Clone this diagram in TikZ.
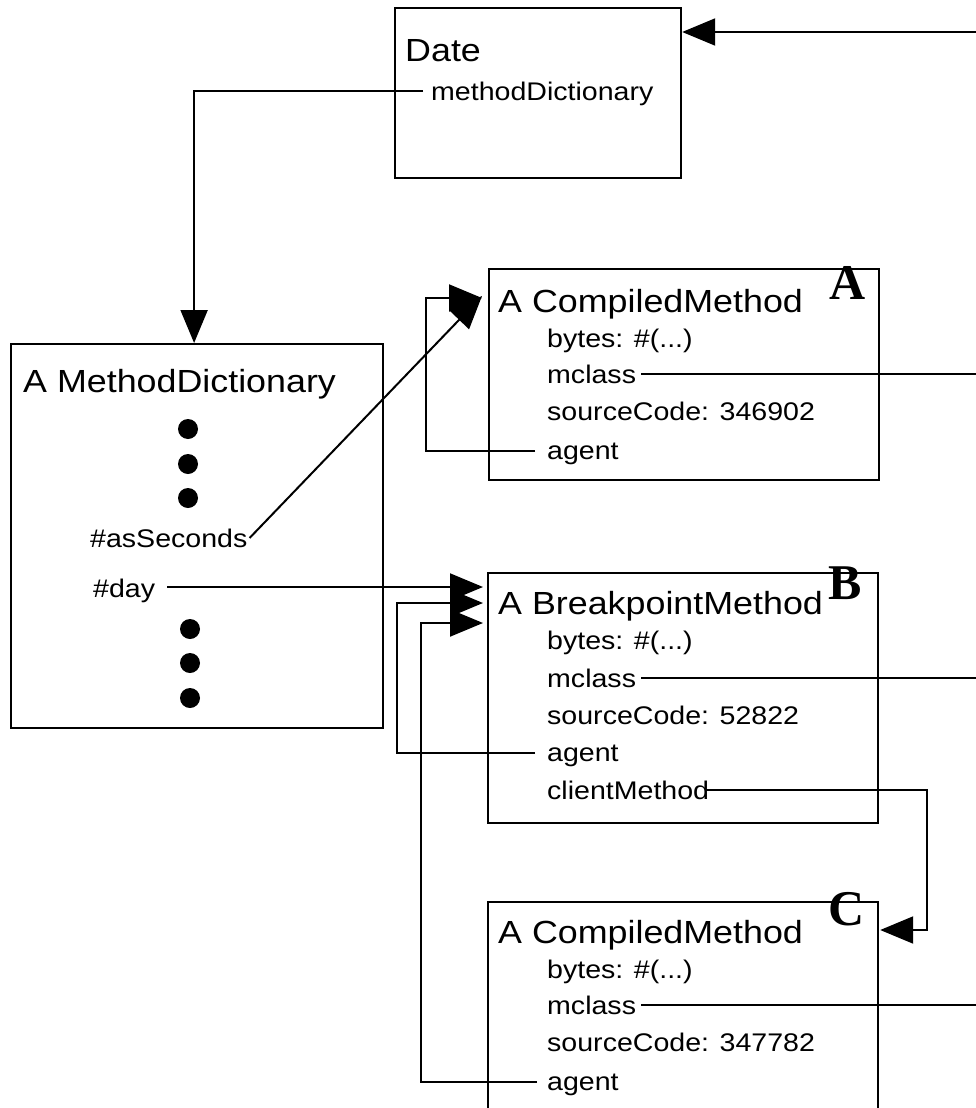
\documentclass[tikz,border=0pt]{standalone}
\usepackage{fontspec}
\newfontfamily\dgbig{Liberation Sans}[FakeStretch=1.12]
\newfontfamily\dgser{Liberation Serif}
\usetikzlibrary{arrows.meta,calc}
\tikzset{
  box/.style={draw, rectangle, line width=2.2pt, anchor=north west, inner sep=0pt},
  ttl/.style={font=\dgbig\fontsize{32}{36}\selectfont, anchor=base west, inner sep=0pt},
  fld/.style={font=\dgbig\fontsize{25.5}{28}\selectfont, anchor=base west, inner sep=0pt},
  tag/.style={font=\dgser\bfseries\fontsize{50}{54}\selectfont, anchor=base west, inner sep=0pt},
  link/.style={line width=2pt},
  arr/.style={link, -{Triangle[length=33pt,width=27pt]}},
  dot/.style={circle, fill, inner sep=0pt, minimum size=20pt},
}
\begin{document}
\begin{tikzpicture}[x=1pt, y=-1pt]
\useasboundingbox (0,0) rectangle (976,1108);
\clip (0,0) rectangle (976,1108);

% Date
\node[box, minimum width=286pt, minimum height=170pt] (date) at (394,7) {};
\node[ttl] (dateT) at (405,62) {Date};
\node[fld] (mdT) at (431,100) {methodDictionary};

% MethodDictionary
\node[box, minimum width=372pt, minimum height=384pt] (mdict) at (10,343) {};
\node[ttl] (mdictT) at (23,392) {A MethodDictionary};
\node[dot] (d1) at (188,429) {};
\node[dot] (d2) at (188,464) {};
\node[dot] (d3) at (188,498) {};
\node[fld] (asS) at (90,547) {\#asSeconds};
\node[fld] (day) at (93,597) {\#day};
\node[dot] (d4) at (190,629) {};
\node[dot] (d5) at (190,663) {};
\node[dot] (d6) at (190,698) {};

% CompiledMethod A
\node[box, minimum width=390pt, minimum height=211pt] (cmA) at (488,268) {};
\node[ttl] (cmAT) at (498,312) {A CompiledMethod};
\node[tag] (tagA) at (829,299) {A};
\node[fld] (byA) at (547,347) {bytes: \#(...)};
\node[fld] (mcA) at (547,383) {mclass};
\node[fld] (scA) at (547,420) {sourceCode: 346902};
\node[fld] (agA) at (547,459) {agent};

% BreakpointMethod B
\node[box, minimum width=390pt, minimum height=250pt] (bpB) at (487,572) {};
\node[ttl] (bpBT) at (498,614) {A BreakpointMethod};
\node[tag] (tagB) at (828,599) {B};
\node[fld] (byB) at (547,649) {bytes: \#(...)};
\node[fld] (mcB) at (547,687) {mclass};
\node[fld] (scB) at (547,724) {sourceCode: 52822};
\node[fld] (agB) at (547,761) {agent};
\node[fld] (cmB) at (547,799) {clientMethod};

% CompiledMethod C
\node[box, minimum width=390pt, minimum height=260pt] (cmC) at (487,901) {};
\node[ttl] (cmCT) at (498,943) {A CompiledMethod};
\node[tag] (tagC) at (828,925) {C};
\node[fld] (byC) at (547,978) {bytes: \#(...)};
\node[fld] (mcC) at (547,1014) {mclass};
\node[fld] (scC) at (547,1051) {sourceCode: 347782};
\node[fld] (agC) at (547,1090) {agent};

% helper coordinates
\coordinate (rEdge) at (976,0);
\coordinate (dIn) at (976,32);
\coordinate (cmTurn) at (927,0);
\coordinate (bTip) at ($(bpB.north west)+(-4,0)$);
\coordinate (mdIn) at ($(mdict.north)+(-3,0)$);

% connectors
\draw[arr] (dIn) -- (dIn -| date.east);
\draw[arr] ($(mdT.base west)+(-8,-9)$) -| (mdIn);
\draw[arr] ($(asS.base east)+(2,-9)$) -- ($(cmA.north west)+(-6,28)$);
\draw[arr] ($(agA.base west)+(-12,-8)$) -- ++(-109,0) |- ($(cmA.north west)+(-6,30)$);
\draw[link] ($(mcA.base east)+(5,-9)$) coordinate (mA0) -- (mA0 -| rEdge);

\draw[arr] ($(day.base east)+(12,-10)$) coordinate (dy0) -- (dy0 -| bTip);
\draw[arr] ($(agB.base west)+(-12,-8)$) -- ++(-138,0) |- ($(bpB.north west)+(-4,31)$);
\draw[arr] ($(agC.base west)+(-10,-8)$) -- ++(-116,0) |- ($(bpB.north west)+(-4,51)$);
\draw[link] ($(mcB.base east)+(5,-9)$) coordinate (mB0) -- (mB0 -| rEdge);
\draw[arr] ($(cmB.base east)+(-4,-9)$) coordinate (cm0) -- (cm0 -| cmTurn) |- ($(cmC.north east)+(1,29)$);

\draw[link] ($(mcC.base east)+(5,-9)$) coordinate (mC0) -- (mC0 -| rEdge);
\end{tikzpicture}
\end{document}
